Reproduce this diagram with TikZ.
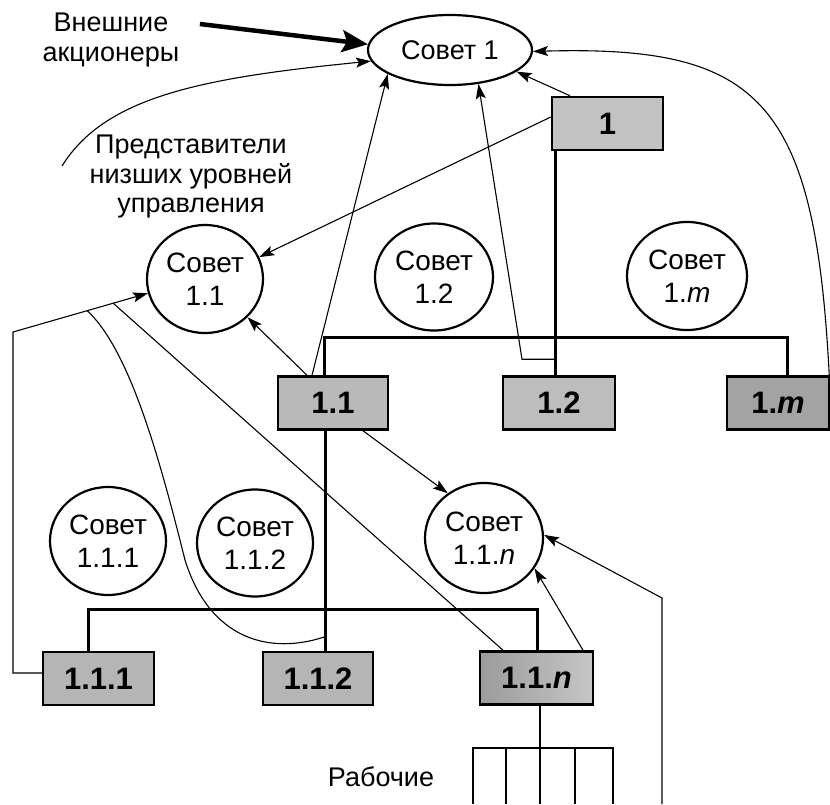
\documentclass[tikz,border=0pt]{standalone}
\usepackage{fontspec}
\setmainfont{Liberation Sans}
\usetikzlibrary{shapes.geometric,arrows.meta,calc}
\begin{document}
\begin{tikzpicture}[x=1pt,y=-1pt,
  conn/.style={line width=1.1pt},
  arr/.style={conn,-{Stealth[length=15pt,width=10pt,inset=3pt]}},
  bigarr/.style={line width=4.5pt,-{Stealth[length=26pt,width=22pt,inset=5pt]}},
  bus/.style={line width=3pt},
  council/.style={ellipse,draw,line width=2.2pt,inner sep=0pt,align=center,font=\fontsize{28}{33}\selectfont},
  unit/.style={draw,line width=2.5pt,minimum width=110pt,minimum height=53pt,inner sep=0pt,font=\fontsize{31}{33}\selectfont\bfseries},
  lbl/.style={align=center,font=\fontsize{27}{29.5}\selectfont}
]
\useasboundingbox (0,0) rectangle (830,804);

% councils
\node[council,minimum width=164pt,minimum height=70pt,font=\fontsize{27}{33}\selectfont] (s1) at (450,50) {Совет 1};
\node[council,minimum width=116pt,minimum height=108pt] (c11) at (205,279) {Совет\\1.1};
\node[council,minimum width=118pt,minimum height=107pt] (c12) at (434,277) {Совет\\1.2};
\node[council,minimum width=120pt,minimum height=108pt] (c1m) at (687,276) {Совет\\1.\textit{m}};
\node[council,minimum width=116pt,minimum height=108pt] (c111) at (108,541) {Совет\\1.1.1};
\node[council,minimum width=116pt,minimum height=107pt] (c112) at (255,543) {Совет\\1.1.2};
\node[council,minimum width=118pt,minimum height=110pt] (c11n) at (484,538) {Совет\\1.1.\textit{n}};

% units
\node[unit,fill=gray!48,minimum width=111pt] (b1) at (607.5,123.5) {1};
\node[unit,fill=gray!55] (b11) at (333,403) {1.1};
\node[unit,fill=gray!52,minimum width=112pt] (b12) at (559,403) {1.2};
\node[unit,fill=gray!72,minimum width=102pt] (b1m) at (778,403) {1.\textit{m}};
\node[unit,fill=gray!58,minimum width=111pt] (b111) at (98.5,678.5) {1.1.1};
\node[unit,fill=gray!58] (b112) at (318,678.5) {1.1.2};
\node[unit,left color=gray!78,right color=gray!45,minimum width=113pt] (b11n) at (536.5,678) {1.1.\textit{n}};

% labels
\node[lbl] (ext) at (111,40) {Внешние\\акционеры};
\node[lbl] (rep) at (191,177) {Представители\\низших уровней\\управления};
\node[lbl] (work) at (381,777) {Рабочие};

% coordinates
\coordinate (bus1) at (555,337);
\coordinate (bus2) at (325,609);
\coordinate (m0) at (13,332);
\coordinate (m1) at (87,310.5);
\coordinate (m2) at (113,303);
\coordinate (rep0) at (62,166);
\coordinate (wbot) at (540,804);
\coordinate (wr0) at (662,804);

% hierarchy lines
\draw[bus] ([xshift=-52.5pt]b1.south) -- ([xshift=-52.5pt]b1.south |- b12.north);
\draw[bus] ([xshift=-9pt]b11.north) |- (bus1) -| ([xshift=9pt]b1m.north);
\draw[bus] ([xshift=-8pt]b11.south) -- ([xshift=7pt]b112.north);
\draw[bus] ([xshift=-10.5pt]b111.north) |- (bus2) -| ([xshift=0.5pt]b11n.north);

% workers
\draw[line width=2pt] (473,804) -- (473,748) -- (613,748) -- (613,804);
\draw[conn] (506,748) -- (506,804) (575,748) -- (575,804);
\draw[conn] ([xshift=3.5pt]b11n.south) -- (wbot);

% arrows
\draw[bigarr] ([xshift=17pt,yshift=16pt]ext.east) -- (s1.176);
\draw[arr] (rep0) .. controls (105,97) and (200,78) .. (s1.188);
\draw[arr] ([xshift=-21pt]b11.north) -- (s1.201);
\draw[arr] ([xshift=-26pt]b11.north) -- (c11.318);
\draw[arr] ([xshift=30pt]b11.south) -- (c11n.129);
\draw[arr] ([xshift=-37.5pt]b1.north) -- (s1.342);
\draw[arr] ([yshift=6.5pt]b1.west) -- (c11.22);
\draw[arr] ([xshift=-4pt,yshift=16pt]b12.north) -- ++(-33,0) -- (s1.310);
\draw[arr] ([xshift=-1pt]b1m.north east) .. controls (815,100) and (760,45) .. (s1.359);
\draw[arr] ([yshift=5.5pt]b111.west) -| (m0) -- (c11.194);
\draw[conn] (m1) .. controls (130,350) and (160,460) .. (185,560) .. controls (210,640) and (270,655) .. ([xshift=7pt,yshift=14pt]b112.north);
\draw[conn] (m2) -- ([xshift=-33.5pt]b11n.north);
\draw[arr] ([xshift=46.5pt]b11n.north) -- (c11n.329);
\draw[arr] (wr0) -- ++(0,-206) -- (c11n.3);
\end{tikzpicture}
\end{document}
